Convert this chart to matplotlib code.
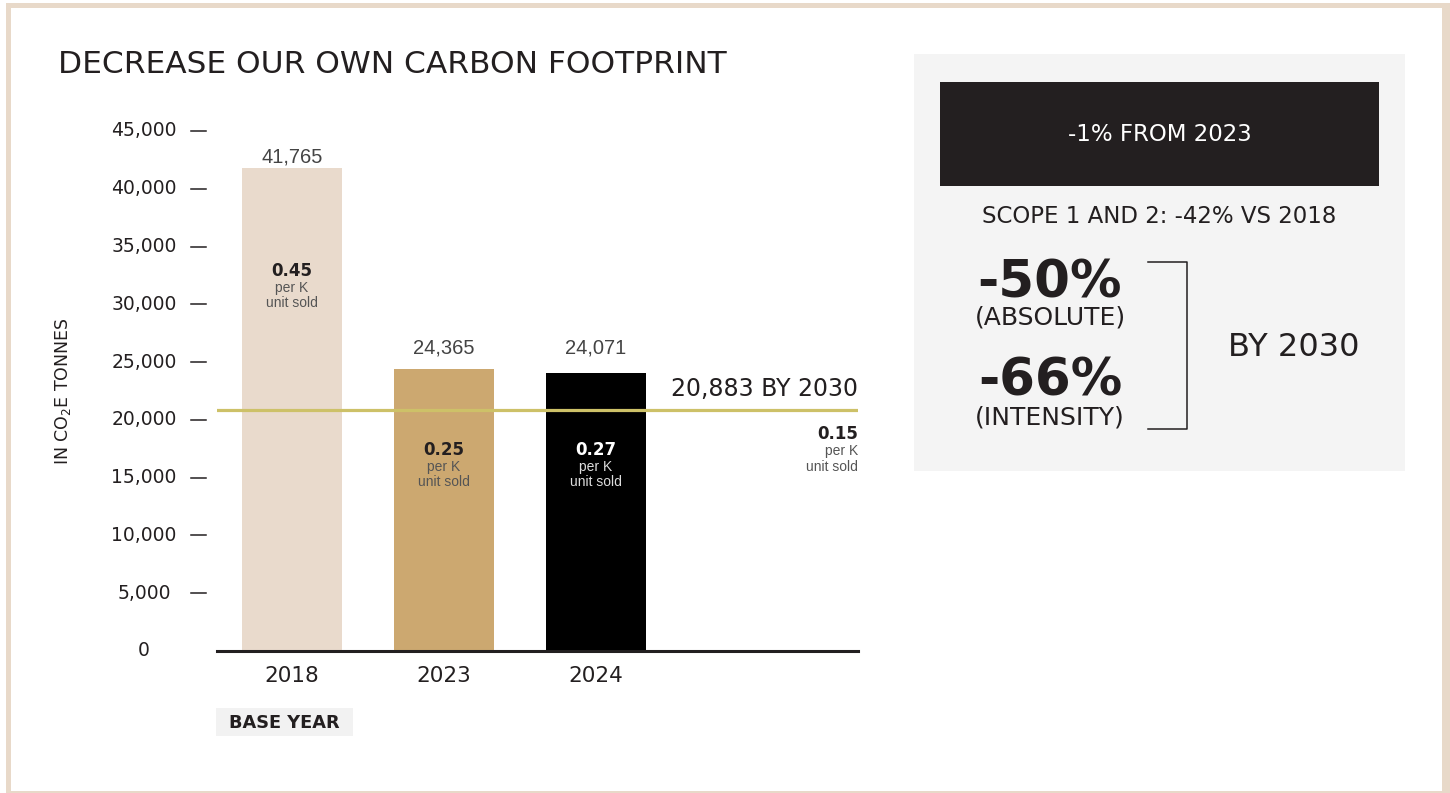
#!/usr/bin/env python3
"""Carbon footprint bar chart with a target line and a side summary panel."""

import matplotlib
matplotlib.use('Agg')
import matplotlib.pyplot as plt
from matplotlib.patches import Rectangle
from matplotlib.transforms import blended_transform_factory

# --- data ---------------------------------------------------------------
years = ['2018', '2023', '2024']
emissions = [41765, 24365, 24071]
intensity = ['0.45', '0.25', '0.27']
target_value = 20883
target_label = '20,883 BY 2030'
target_intensity = '0.15'
y_ticks = [0, 5000, 10000, 15000, 20000, 25000, 30000, 35000, 40000, 45000]

bar_colors = ['#e9dacc', '#cca870', '#000000']
intensity_colors = ['#231f20', '#231f20', '#ffffff']
unit_colors = ['#555555', '#555555', '#dddddd']

DARK = '#231f20'
W, H = 1450, 793
SANS = 'DejaVu Sans'
HELV = 'Liberation Sans'

fig = plt.figure(figsize=(W / 100, H / 100), dpi=100)
fig.patch.set_facecolor('white')

# decoration layer in pixel coordinates (y grows downward)
deco = fig.add_axes([0, 0, 1, 1], zorder=0)
deco.set_xlim(0, W)
deco.set_ylim(H, 0)
deco.axis('off')

# beige frame
deco.add_patch(Rectangle((6, 3), W - 6, H, color='#e8d9c9', lw=0))
deco.add_patch(Rectangle((11, 8), 1442 - 11, 791 - 8, color='white', lw=0))

# --- main chart axes ----------------------------------------------------
ax_left, ax_right = 217, 858
ax_top, ax_bottom = 131, 651
ax = fig.add_axes([ax_left / W, 1 - ax_bottom / H,
                   (ax_right - ax_left) / W, (ax_bottom - ax_top) / H], zorder=2)
ax.patch.set_alpha(0)
spacing = 152
ax.set_xlim(-75 / spacing, (ax_right - 292) / spacing)
ax.set_ylim(0, 45000)
for s in ax.spines.values():
    s.set_visible(False)
ax.set_xticks([])
ax.set_yticks([])

xs = list(range(len(years)))
ax.bar(xs, emissions, width=100 / spacing, color=bar_colors, zorder=2)

yt = blended_transform_factory(ax.transAxes, ax.transData)
w_ax = ax_right - ax_left

# baseline
ax.axhline(0, color=DARK, lw=2.2, zorder=4, clip_on=False)
# target line
ax.axhline(target_value, color='#cdc168', lw=2.3, zorder=3)
ax.annotate(target_label, (1, target_value), xycoords=yt, xytext=(0, 14),
            textcoords='offset pixels', ha='right', va='baseline', fontsize=17,
            family=SANS, color=DARK)

# y tick labels with dash marks
for v in y_ticks:
    ax.text((144 - ax_left) / w_ax, v, f'{v:,}', transform=yt, ha='center', va='center',
            fontsize=13.5, family=SANS, color=DARK, clip_on=False)
    if v > 0:
        ax.plot([(191 - ax_left) / w_ax, (206 - ax_left) / w_ax], [v, v], transform=yt,
                color=DARK, lw=1.1, clip_on=False)

ax.text((63 - ax_left) / w_ax, 0.5, 'IN CO$_2$E TONNES', transform=ax.transAxes, rotation=90,
        ha='center', va='center', fontsize=12.5, family=SANS, color=DARK)

# x labels
for x, yr in zip(xs, years):
    ax.annotate(yr, (x, 0), xytext=(0, -31), textcoords='offset pixels', ha='center',
                va='baseline', fontsize=15.5, family=SANS, color=DARK, annotation_clip=False)

# value labels above bars
label_offsets = [6, 16, 19]
for x, v, off in zip(xs, emissions, label_offsets):
    ax.annotate(f'{v:,}', (x, v), xytext=(0, off), textcoords='offset pixels', ha='center',
                va='baseline', fontsize=14.5, family=HELV, color='#444444')

# intensity labels inside bars
intensity_pos = [(0, 276), (1, 455), (2, 455)]
px_to_data = 45000 / (ax_bottom - ax_top)
for (x, base), val, c1, c2 in zip(intensity_pos, intensity, intensity_colors, unit_colors):
    yv = (ax_bottom - base) * px_to_data
    ax.text(x, yv, val, ha='center', va='baseline', fontsize=12, family=SANS,
            fontweight='bold', color=c1, zorder=5)
    ax.text(x, yv - 16 * px_to_data, 'per K', ha='center', va='baseline', fontsize=10,
            family=HELV, color=c2, zorder=5)
    ax.text(x, yv - 31 * px_to_data, 'unit sold', ha='center', va='baseline', fontsize=10,
            family=HELV, color=c2, zorder=5)

yv = (ax_bottom - 439) * px_to_data
ax.text(1, yv, target_intensity, transform=yt, ha='right', va='baseline', fontsize=12,
        family=SANS, fontweight='bold', color=DARK)
ax.text(1, yv - 16 * px_to_data, 'per K', transform=yt, ha='right', va='baseline',
        fontsize=10, family=HELV, color='#555555')
ax.text(1, yv - 32 * px_to_data, 'unit sold', transform=yt, ha='right', va='baseline',
        fontsize=10, family=HELV, color='#555555')

# --- title and base year tag ---------------------------------------------
deco.text(58, 73, 'DECREASE OUR OWN CARBON FOOTPRINT', ha='left', va='baseline',
          fontsize=22.5, family=SANS, color=DARK)
deco.add_patch(Rectangle((216, 708), 137, 28, color='#f2f2f2', lw=0))
deco.text(284.5, 728, 'BASE YEAR', ha='center', va='baseline', fontsize=12.8,
          family=SANS, fontweight='bold', color=DARK)

# --- right summary panel -------------------------------------------------
deco.add_patch(Rectangle((914, 54), 491, 417, color='#f4f4f4', lw=0))
deco.add_patch(Rectangle((940, 82), 439, 104, color=DARK, lw=0))
deco.text(1160, 141, '-1% FROM 2023', ha='center', va='baseline', fontsize=16.5,
          family=SANS, color='white')
deco.text(1159, 223, 'SCOPE 1 AND 2: -42% VS 2018', ha='center', va='baseline',
          fontsize=16.5, family=SANS, color=DARK)

deco.text(1050, 297, '-50%', ha='center', va='baseline', fontsize=37,
          family=SANS, fontweight='bold', color=DARK)
deco.text(1050, 325, '(ABSOLUTE)', ha='center', va='baseline', fontsize=18,
          family=SANS, color=DARK)
deco.text(1050, 395, '-66%', ha='center', va='baseline', fontsize=37,
          family=SANS, fontweight='bold', color=DARK)
deco.text(1050, 424, '(INTENSITY)', ha='center', va='baseline', fontsize=18,
          family=SANS, color=DARK)

deco.plot([1148, 1187, 1187, 1148], [262, 262, 429, 429], color=DARK, lw=1.1)
deco.text(1294, 356, 'BY 2030', ha='center', va='baseline', fontsize=23,
          family=SANS, color=DARK)

fig.savefig('out.png', dpi=100)
